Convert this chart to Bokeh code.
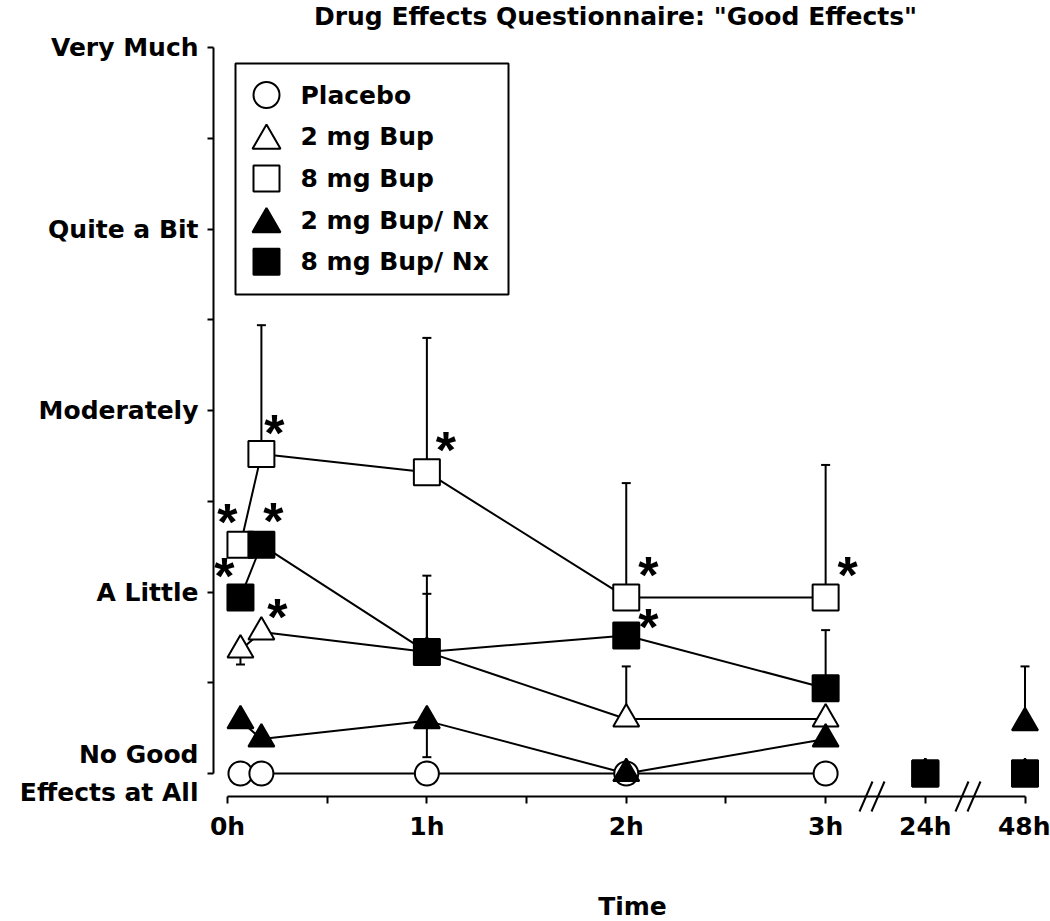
from bokeh.plotting import figure
from bokeh.models import (Range1d, FixedTicker, ColumnDataSource, Whisker, TeeHead,
                          Arrow, Label)
from bokeh.core.properties import value
from bokeh.embed import file_html
from bokeh.resources import INLINE

# ------------------------------------------------------------------ data
series_names = ["Placebo", "2 mg Bup", "8 mg Bup", "2 mg Bup/ Nx", "8 mg Bup/ Nx"]

# axis position of each assessment (24 h and 48 h sit after the axis breaks)
time_pos = [0.065, 0.17, 1.0, 2.0, 3.0, 3.5, 4.0]
n_connected = 5          # first five assessments are joined by lines

time_ticks = [0, 1, 2, 3, 3.5, 4]
time_minor_ticks = [0.5, 1.5, 2.5]
time_labels = ["0h", "1h", "2h", "3h", "24h", "48h"]

rating_ticks = [0, 1, 2, 3, 4]
rating_minor_ticks = [0.5, 1.5, 2.5, 3.5]
rating_labels = ["No Good\nEffects at All", "A Little", "Moderately", "Quite a Bit", "Very Much"]

placebo = [0, 0, 0, 0, 0, 0, 0]
bup2 = [0.68, 0.78, 0.67, 0.30, 0.30, 0, 0]
bup8 = [1.26, 1.76, 1.66, 0.97, 0.97, 0, 0]
bupnx2 = [0.29, 0.19, 0.29, 0.0, 0.19, 0, 0.28]
bupnx8 = [0.97, 1.26, 0.67, 0.76, 0.47, 0, 0]

# end of the error bar drawn for each point (None = no bar visible)
placebo_err = [None, None, None, None, None, None, None]
bup2_err = [0.60, None, 0.99, 0.59, None, None, None]
bup8_err = [1.20, 2.47, 2.40, 1.60, 1.70, None, None]
bupnx2_err = [None, None, 0.09, None, None, None, 0.59]
bupnx8_err = [None, None, 1.09, None, 0.79, None, None]

# points marked significant (*): (series, assessment index)
significant = [("8 mg Bup", 0), ("8 mg Bup", 1), ("8 mg Bup", 2), ("8 mg Bup", 3),
               ("8 mg Bup", 4), ("8 mg Bup/ Nx", 0), ("8 mg Bup/ Nx", 1),
               ("8 mg Bup/ Nx", 3), ("2 mg Bup", 1)]

title_text = 'Drug Effects Questionnaire: "Good Effects"'
xlabel_text = "Time"

# ------------------------------------------------------------------ styles / layout
FONT = "DejaVu Sans"
STAR_FONT = "Liberation Sans"
FS = "25px"
W, H = 1050, 921
X0_PX, X_UNIT = 227.0, 199.375       # canvas px of x=0, px per unit
Y0_PX, Y_UNIT = 773.0, 181.5         # canvas px of y=0, px per unit
YAXIS_PX, XAXIS_PX = 213, 796        # where the (detached) axes sit


def xd(px):
    return (px - X0_PX) / X_UNIT


def yd(py):
    return (Y0_PX - py) / Y_UNIT


styles = {
    "Placebo": dict(marker="circle", size=24, fill="white"),
    "2 mg Bup": dict(marker="triangle", size=26, fill="white"),
    "8 mg Bup": dict(marker="square", size=26, fill="white"),
    "2 mg Bup/ Nx": dict(marker="triangle", size=26, fill="black"),
    "8 mg Bup/ Nx": dict(marker="square", size=26, fill="black"),
}
legend_sizes = {"circle": 26, "triangle": 28, "square": 26}
star_offsets = {
    ("8 mg Bup", 0): (-13, -28), ("8 mg Bup", 1): (13, -26), ("8 mg Bup", 2): (19, -27),
    ("8 mg Bup", 3): (22, -27), ("8 mg Bup", 4): (22, -27),
    ("8 mg Bup/ Nx", 0): (-16, -26), ("8 mg Bup/ Nx", 1): (12, -29),
    ("8 mg Bup/ Nx", 3): (22, -14), ("2 mg Bup", 1): (16, -20),
}
STAR_SHIFT = 5    # glyph centre sits above the text anchor

values = dict(zip(series_names, [placebo, bup2, bup8, bupnx2, bupnx8]))
errors = dict(zip(series_names, [placebo_err, bup2_err, bup8_err, bupnx2_err, bupnx8_err]))

# the frame fills the whole canvas; the axes are pinned at fixed data locations
p = figure(width=W, height=H, output_backend="svg", toolbar_location=None,
           x_range=Range1d(xd(0), xd(W)), y_range=Range1d(yd(H), yd(0)),
           min_border=0, min_border_left=0, min_border_right=0,
           min_border_top=0, min_border_bottom=0)
p.outline_line_color = None
p.grid.visible = False
p.background_fill_color = "white"
p.border_fill_color = "white"

# axes
xa = p.xaxis[0]
xa.ticker = FixedTicker(ticks=time_ticks, minor_ticks=time_minor_ticks)
xa.major_label_overrides = {t: lab for t, lab in zip(time_ticks, time_labels)}
xa.bounds = (time_ticks[0], time_ticks[-1])
xa.fixed_location = yd(XAXIS_PX)
ya = p.yaxis[0]
ya.ticker = FixedTicker(ticks=rating_ticks, minor_ticks=rating_minor_ticks)
ya.major_label_overrides = {t: lab for t, lab in zip(rating_ticks, rating_labels)}
ya.bounds = (rating_ticks[0], rating_ticks[-1])
ya.fixed_location = xd(YAXIS_PX)
for ax, tick_len, standoff in ((xa, 7, 8), (ya, 6, 9)):
    ax.axis_line_width = 2
    ax.axis_line_color = "black"
    ax.major_tick_line_width = 2
    ax.minor_tick_line_width = 2
    ax.major_tick_line_color = "black"
    ax.minor_tick_line_color = "black"
    ax.major_tick_in = 0
    ax.minor_tick_in = 0
    ax.major_tick_out = tick_len
    ax.minor_tick_out = tick_len
    ax.major_label_standoff = standoff
    ax.major_label_text_font = FONT
    ax.major_label_text_font_size = FS
    ax.major_label_text_font_style = "bold"
    ax.major_label_text_color = "black"
ya.major_label_text_line_height = 1.28

# error bars (underlay, drawn from the mean to the bar end)
eb_x, eb_lo, eb_hi = [], [], []
for name in series_names:
    for t, v, e in zip(time_pos, values[name], errors[name]):
        if e is None:
            continue
        eb_x.append(t)
        eb_lo.append(min(v, e))
        eb_hi.append(max(v, e))
eb_src = ColumnDataSource(dict(x=eb_x, lo=eb_lo, hi=eb_hi))
whisk = Whisker(source=eb_src, base="x", lower="lo", upper="hi", dimension="height",
                line_width=2, line_color="black", level="underlay",
                upper_head=TeeHead(size=9, line_width=2, line_color="black"),
                lower_head=TeeHead(size=9, line_width=2, line_color="black"))
p.add_layout(whisk)

# legend box (drawn by hand so the markers can be as large as in the original)
LEG_L, LEG_R, LEG_T, LEG_B = 235, 508, 63, 294
LEG_MARK_X, LEG_TEXT_X, LEG_ROW0, LEG_STEP = 266, 300, 94.5, 41.7
p.quad(left=[xd(LEG_L)], right=[xd(LEG_R)], top=[yd(LEG_T)], bottom=[yd(LEG_B)],
       fill_color="white", line_color="black", line_width=2)

# connecting lines
for name in series_names:
    p.line(time_pos[:n_connected], values[name][:n_connected], line_width=2, line_color="black")

# markers
for name in series_names:
    st = styles[name]
    p.scatter(time_pos, values[name], marker=st["marker"], size=st["size"],
              fill_color=st["fill"], line_color="black", line_width=2)

# legend entries
for i, name in enumerate(series_names):
    st = styles[name]
    row = LEG_ROW0 + LEG_STEP * i
    my = row + (4 if st["marker"] == "triangle" else 0)
    p.scatter([xd(LEG_MARK_X)], [yd(my)], marker=st["marker"], size=legend_sizes[st["marker"]],
              fill_color=st["fill"], line_color="black", line_width=2)
    p.text(x=[xd(LEG_TEXT_X)], y=[yd(row)], text=[name], text_font=value(FONT),
           text_font_size=FS, text_font_style="bold", text_align="left",
           text_baseline="middle", text_color="black")

# significance asterisks
sx, sy, sdx, sdy = [], [], [], []
for name, i in significant:
    sx.append(time_pos[i])
    sy.append(values[name][i])
    ox, oy = star_offsets[(name, i)]
    sdx.append(ox)
    sdy.append(oy + STAR_SHIFT)
star_src = ColumnDataSource(dict(x=sx, y=sy, dx=sdx, dy=sdy, t=["*"] * len(sx)))
p.text(x="x", y="y", text="t", x_offset="dx", y_offset="dy", source=star_src,
       text_font=value(STAR_FONT), text_font_size="52px", text_font_style="bold",
       text_align="center", text_baseline="middle", text_color="black")

# axis breaks
bx0, by0, bx1, by1 = [], [], [], []
for c in (871.5, 967.5):
    for m in (c - 6, c + 6):
        bx0.append(xd(m - 6.5)); by0.append(yd(811))
        bx1.append(xd(m + 6.5)); by1.append(yd(781))
brk = Arrow(x_start="x0", y_start="y0", x_end="x1", y_end="y1", start=None, end=None,
            line_width=2, line_color="black",
            source=ColumnDataSource(dict(x0=bx0, y0=by0, x1=bx1, y1=by1)))
p.add_layout(brk)

# title and x-axis title
p.add_layout(Label(x=xd(615), y=yd(16), text=title_text, text_align="center",
                   text_baseline="alphabetic", text_font=FONT, text_font_size=FS,
                   text_font_style="bold", text_color="black"))
p.add_layout(Label(x=xd(632), y=yd(906), text=xlabel_text, text_align="center",
                   text_baseline="alphabetic", text_font=FONT, text_font_size=FS,
                   text_font_style="bold", text_color="black"))

open("out.html", "w").write(file_html(p, INLINE))
